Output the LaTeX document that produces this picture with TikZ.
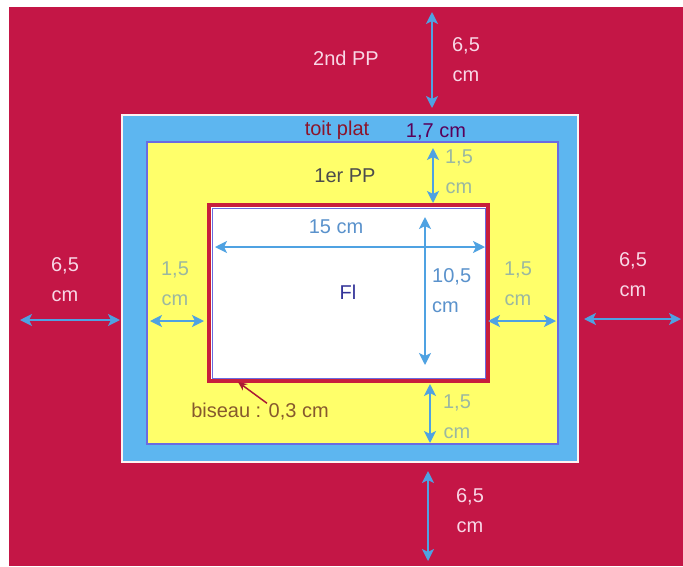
\documentclass[tikz,border=0pt]{standalone}
\usepackage{fontspec}
\setmainfont{Liberation Sans}
\usetikzlibrary{arrows.meta}
\definecolor{crimson}{RGB}{196,22,70}
\definecolor{frameblue}{RGB}{93,182,240}
\definecolor{paleyellow}{RGB}{255,255,106}
\definecolor{arrowblue}{RGB}{79,162,226}
\definecolor{edgepurple}{RGB}{107,107,224}
\definecolor{firered}{RGB}{200,30,60}
\definecolor{pinkwhite}{RGB}{248,215,230}
\definecolor{greyteal}{RGB}{155,184,160}
\definecolor{textblue}{RGB}{90,146,204}
\begin{document}
\begin{tikzpicture}[x=1pt,y=-1pt,
  every node/.style={font=\fontsize{20}{30}\selectfont, inner sep=0pt, align=center},
  dim/.style={draw=arrowblue, line width=2pt, {Stealth[length=12pt,width=12pt,inset=3pt]}-{Stealth[length=12pt,width=12pt,inset=3pt]}},
  outside/.style={text=pinkwhite},
  inside/.style={text=greyteal},
  window/.style={text=textblue}]
\useasboundingbox (0,0) rectangle (683,566);
\fill[white] (0,0) rectangle (683,566);
\fill[crimson] (9,7) rectangle (683,566);

\coordinate (A) at (122,115);
\coordinate (B) at (578,462);
\coordinate (C) at (147,142);
\coordinate (D) at (558,444);
\coordinate (E) at (209,205);
\coordinate (F) at (488,381);

\draw[line width=2pt, draw=white!80!pink, fill=frameblue] (A) rectangle (B);
\draw[line width=2pt, draw=edgepurple, fill=paleyellow] (C) rectangle (D);
\draw[line width=4pt, draw=firered, fill=white] (E) rectangle (F);
\draw[line width=1pt, draw=edgepurple] ([shift={(3,3)}]E) rectangle ([shift={(-3,-3)}]F);

\coordinate (top1) at (432,12);
\coordinate (top2) at (432,108);
\coordinate (pp1) at (433,148);
\coordinate (pp2) at (433,203);
\coordinate (wl) at (215,247);
\coordinate (wr) at (485,247);
\coordinate (ht) at (425,217);
\coordinate (hb) at (425,365);
\coordinate (yl1) at (150,321);
\coordinate (yl2) at (204,321);
\coordinate (yr1) at (488,321);
\coordinate (yr2) at (556,321);
\coordinate (cl1) at (20,320);
\coordinate (cl2) at (120,320);
\coordinate (cr1) at (584,319);
\coordinate (cr2) at (681,319);
\coordinate (yb1) at (430,384);
\coordinate (yb2) at (430,443);
\coordinate (cb1) at (428,471);
\coordinate (cb2) at (428,561);
\coordinate (bevel) at (238,382);

\draw[dim] (top1) -- (top2);
\draw[dim] (pp1) -- (pp2);
\draw[dim] (wl) -- (wr);
\draw[dim] (ht) -- (hb);
\draw[dim] (yl1) -- (yl2);
\draw[dim] (yr1) -- (yr2);
\draw[dim] (cl1) -- (cl2);
\draw[dim] (cr1) -- (cr2);
\draw[dim] (yb1) -- (yb2);
\draw[dim] (cb1) -- (cb2);

\node[outside] (toplabel) at (466,60) {6,5\\cm};
\node[outside] (second) at (346,58) {2nd PP};
\node[text=firered!70!black] (roof) at (337,130) {toit plat};
\node[text=violet!70!black] (roofw) at (436,132) {1,7 cm};
\node[inside] (pptop) at (459,172) {1,5\\cm};
\node[text=black!70] (first) at (345,176) {1er PP};
\node[window] (width) at (336,227) {15 cm};
\node[window, anchor=west, align=left] (height) at (432,291) {10,5\\cm};
\node[text=blue!50!black!80] (fl) at (348,292) {Fl};
\node[inside] (ppleft) at (175,284) {1,5\\cm};
\node[inside] (ppright) at (518,284) {1,5\\cm};
\node[outside] (leftlabel) at (65,280) {6,5\\cm};
\node[outside] (rightlabel) at (633,275) {6,5\\cm};
\node[inside] (ppbottom) at (457,417) {1,5\\cm};
\node[outside] (bottomlabel) at (470,511) {6,5\\cm};
\node[text=brown!70!black] (biseau) at (260,412) {biseau : 0,3 cm};

\draw[draw=firered!85!black, line width=1.5pt, -{Stealth[length=9pt,width=8pt]}] ([xshift=7pt]biseau.north) -- (bevel);
\end{tikzpicture}
\end{document}
